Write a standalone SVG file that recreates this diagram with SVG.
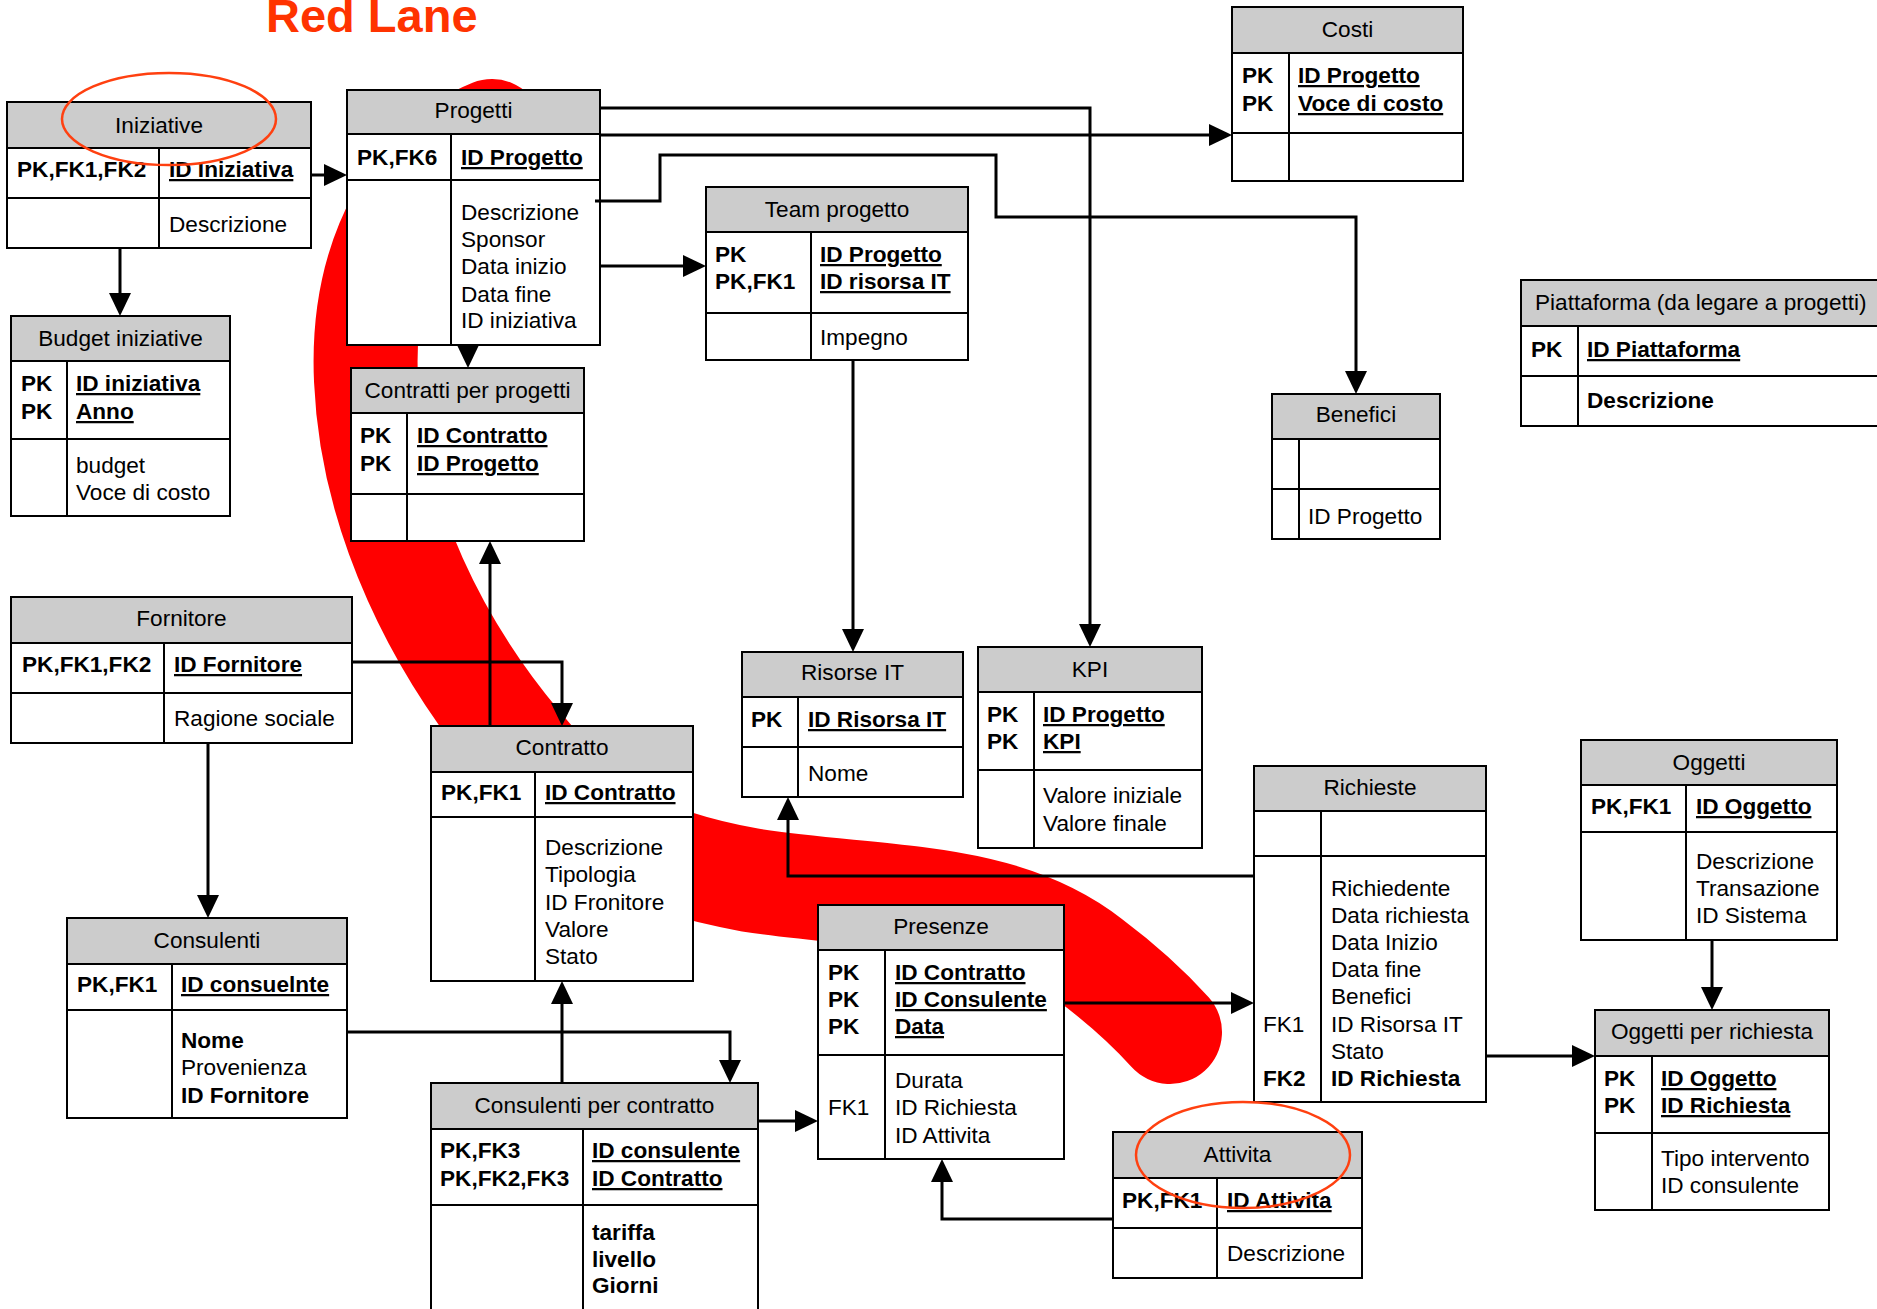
<svg xmlns="http://www.w3.org/2000/svg" width="1877" height="1309" viewBox="0 0 1877 1309">
  <style>
    text { font-family: "Liberation Sans", Arial, sans-serif; font-size: 22.6px; fill: #000; }
    .t { text-anchor: middle; }
    .b { font-weight: bold; }
    .u { font-weight: bold; text-decoration: underline; }
    .hd { fill: #cccccc; stroke: #000; stroke-width: 2; }
    .bd { fill: #ffffff; stroke: #000; stroke-width: 2; }
    .ln { fill: none; stroke: #000; stroke-width: 2; }
    .cn { fill: none; stroke: #000; stroke-width: 3; }
    .ring { fill: none; stroke: #ff4010; stroke-width: 2.5; }
  </style>
  <defs>
    <marker id="arr" markerUnits="userSpaceOnUse" markerWidth="23" markerHeight="22" viewBox="0 0 23 22" refX="15" refY="11" orient="auto">
      <path d="M0,0 L23,11 L0,22 z" fill="#000"/>
    </marker>
  </defs>

  <rect width="1877" height="1309" fill="#ffffff"/>

  <!-- thick red lane behind the tables -->
  <path d="M492,131 C420,160 360,250 366,380 C372,520 440,650 520,745 C590,830 640,860 750,880 C880,900 1000,890 1090,960 C1130,990 1152,1012 1170,1032" fill="none" stroke="#ff0000" stroke-width="104" stroke-linecap="round" stroke-linejoin="round"/>

  <text x="266" y="32" style="font-size:47px;font-weight:bold;fill:#ff3300">Red Lane</text>

  <g id="iniziative">
    <rect class="hd" x="7" y="102" width="304" height="46"/>
    <rect class="bd" x="7" y="148" width="304" height="100"/>
    <path class="ln" d="M7 198 H311 M159 148 V248"/>
    <text class="t" x="159" y="133">Iniziative</text>
    <text class="b" x="17" y="177">PK,FK1,FK2</text>
    <text class="u" x="169" y="177">ID Iniziativa</text>
    <text x="169" y="232">Descrizione</text>
  </g>

  <g id="progetti">
    <rect class="hd" x="347" y="90" width="253" height="44"/>
    <rect class="bd" x="347" y="134" width="253" height="211"/>
    <path class="ln" d="M347 180 H600 M451 134 V345"/>
    <text class="t" x="473.5" y="118">Progetti</text>
    <text class="b" x="357" y="165">PK,FK6</text>
    <text class="u" x="461" y="165">ID Progetto</text>
    <text x="461" y="220">Descrizione</text>
    <text x="461" y="247">Sponsor</text>
    <text x="461" y="274">Data inizio</text>
    <text x="461" y="302">Data fine</text>
    <text x="461" y="328">ID iniziativa</text>
  </g>

  <g id="costi">
    <rect class="hd" x="1232" y="7" width="231" height="46"/>
    <rect class="bd" x="1232" y="53" width="231" height="128"/>
    <path class="ln" d="M1232 133 H1463 M1289 53 V181"/>
    <text class="t" x="1347.5" y="37">Costi</text>
    <text class="b" x="1242" y="83">PK</text>
    <text class="b" x="1242" y="111">PK</text>
    <text class="u" x="1298" y="83">ID Progetto</text>
    <text class="u" x="1298" y="111">Voce di costo</text>
  </g>

  <g id="team-progetto">
    <rect class="hd" x="706" y="187" width="262" height="45"/>
    <rect class="bd" x="706" y="232" width="262" height="128"/>
    <path class="ln" d="M706 313 H968 M811 232 V360"/>
    <text class="t" x="837" y="217">Team progetto</text>
    <text class="b" x="715" y="262">PK</text>
    <text class="b" x="715" y="289">PK,FK1</text>
    <text class="u" x="820" y="262">ID Progetto</text>
    <text class="u" x="820" y="289">ID risorsa IT</text>
    <text x="820" y="345">Impegno</text>
  </g>

  <g id="budget-iniziative">
    <rect class="hd" x="11" y="316" width="219" height="45"/>
    <rect class="bd" x="11" y="361" width="219" height="155"/>
    <path class="ln" d="M11 439 H230 M67 361 V516"/>
    <text class="t" x="120.5" y="346">Budget iniziative</text>
    <text class="b" x="21" y="391">PK</text>
    <text class="b" x="21" y="419">PK</text>
    <text class="u" x="76" y="391">ID iniziativa</text>
    <text class="u" x="76" y="419">Anno</text>
    <text x="76" y="473">budget</text>
    <text x="76" y="500">Voce di costo</text>
  </g>

  <g id="contratti-per-progetti">
    <rect class="hd" x="351" y="368" width="233" height="45"/>
    <rect class="bd" x="351" y="413" width="233" height="128"/>
    <path class="ln" d="M351 494 H584 M407 413 V541"/>
    <text class="t" x="467.5" y="398">Contratti per progetti</text>
    <text class="b" x="360" y="443">PK</text>
    <text class="b" x="360" y="471">PK</text>
    <text class="u" x="417" y="443">ID Contratto</text>
    <text class="u" x="417" y="471">ID Progetto</text>
  </g>

  <g id="piattaforma">
    <rect class="hd" x="1521" y="280" width="380" height="46"/>
    <rect class="bd" x="1521" y="326" width="380" height="100"/>
    <path class="ln" d="M1521 376 H1901 M1578 326 V426"/>
    <text x="1535" y="310">Piattaforma (da legare a progetti)</text>
    <text class="b" x="1531" y="357">PK</text>
    <text class="u" x="1587" y="357">ID Piattaforma</text>
    <text class="b" x="1587" y="408">Descrizione</text>
  </g>

  <g id="benefici">
    <rect class="hd" x="1272" y="394" width="168" height="45"/>
    <rect class="bd" x="1272" y="439" width="168" height="100"/>
    <path class="ln" d="M1272 489 H1440 M1299 439 V539"/>
    <text class="t" x="1356" y="422">Benefici</text>
    <text x="1308" y="524">ID Progetto</text>
  </g>

  <g id="fornitore">
    <rect class="hd" x="11" y="597" width="341" height="46"/>
    <rect class="bd" x="11" y="643" width="341" height="100"/>
    <path class="ln" d="M11 693 H352 M164 643 V743"/>
    <text class="t" x="181.5" y="626">Fornitore</text>
    <text class="b" x="22" y="672">PK,FK1,FK2</text>
    <text class="u" x="174" y="672">ID Fornitore</text>
    <text x="174" y="726">Ragione sociale</text>
  </g>

  <g id="contratto">
    <rect class="hd" x="431" y="726" width="262" height="46"/>
    <rect class="bd" x="431" y="772" width="262" height="209"/>
    <path class="ln" d="M431 817 H693 M535 772 V981"/>
    <text class="t" x="562" y="755">Contratto</text>
    <text class="b" x="441" y="800">PK,FK1</text>
    <text class="u" x="545" y="800">ID Contratto</text>
    <text x="545" y="855">Descrizione</text>
    <text x="545" y="882">Tipologia</text>
    <text x="545" y="910">ID Fronitore</text>
    <text x="545" y="937">Valore</text>
    <text x="545" y="964">Stato</text>
  </g>

  <g id="consulenti">
    <rect class="hd" x="67" y="918" width="280" height="46"/>
    <rect class="bd" x="67" y="964" width="280" height="154"/>
    <path class="ln" d="M67 1010 H347 M172 964 V1118"/>
    <text class="t" x="207" y="948">Consulenti</text>
    <text class="b" x="77" y="992">PK,FK1</text>
    <text class="u" x="181" y="992">ID consuelnte</text>
    <text class="b" x="181" y="1048">Nome</text>
    <text x="181" y="1075">Provenienza</text>
    <text class="b" x="181" y="1103">ID Fornitore</text>
  </g>

  <g id="consulenti-per-contratto">
    <rect class="hd" x="431" y="1083" width="327" height="46"/>
    <rect class="bd" x="431" y="1129" width="327" height="200"/>
    <path class="ln" d="M431 1205 H758 M583 1129 V1329"/>
    <text class="t" x="594.5" y="1113">Consulenti per contratto</text>
    <text class="b" x="440" y="1158">PK,FK3</text>
    <text class="b" x="440" y="1186">PK,FK2,FK3</text>
    <text class="u" x="592" y="1158">ID consulente</text>
    <text class="u" x="592" y="1186">ID Contratto</text>
    <text class="b" x="592" y="1240">tariffa</text>
    <text class="b" x="592" y="1267">livello</text>
    <text class="b" x="592" y="1293">Giorni</text>
  </g>

  <g id="risorse-it">
    <rect class="hd" x="742" y="652" width="221" height="45"/>
    <rect class="bd" x="742" y="697" width="221" height="100"/>
    <path class="ln" d="M742 747 H963 M798 697 V797"/>
    <text class="t" x="852.5" y="680">Risorse IT</text>
    <text class="b" x="751" y="727">PK</text>
    <text class="u" x="808" y="727">ID Risorsa IT</text>
    <text x="808" y="781">Nome</text>
  </g>

  <g id="kpi">
    <rect class="hd" x="978" y="647" width="224" height="45"/>
    <rect class="bd" x="978" y="692" width="224" height="156"/>
    <path class="ln" d="M978 770 H1202 M1034 692 V848"/>
    <text class="t" x="1090" y="677">KPI</text>
    <text class="b" x="987" y="722">PK</text>
    <text class="b" x="987" y="749">PK</text>
    <text class="u" x="1043" y="722">ID Progetto</text>
    <text class="u" x="1043" y="749">KPI</text>
    <text x="1043" y="803">Valore iniziale</text>
    <text x="1043" y="831">Valore finale</text>
  </g>

  <g id="richieste">
    <rect class="hd" x="1254" y="766" width="232" height="45"/>
    <rect class="bd" x="1254" y="811" width="232" height="291"/>
    <path class="ln" d="M1254 856 H1486 M1321 811 V1102"/>
    <text class="t" x="1370" y="795">Richieste</text>
    <text x="1331" y="896">Richiedente</text>
    <text x="1331" y="923">Data richiesta</text>
    <text x="1331" y="950">Data Inizio</text>
    <text x="1331" y="977">Data fine</text>
    <text x="1331" y="1004">Benefici</text>
    <text x="1263" y="1032">FK1</text>
    <text x="1331" y="1032">ID Risorsa IT</text>
    <text x="1331" y="1059">Stato</text>
    <text class="b" x="1263" y="1086">FK2</text>
    <text class="b" x="1331" y="1086">ID Richiesta</text>
  </g>

  <g id="presenze">
    <rect class="hd" x="818" y="905" width="246" height="45"/>
    <rect class="bd" x="818" y="950" width="246" height="209"/>
    <path class="ln" d="M818 1055 H1064 M885 950 V1159"/>
    <text class="t" x="941" y="934">Presenze</text>
    <text class="b" x="828" y="980">PK</text>
    <text class="b" x="828" y="1007">PK</text>
    <text class="b" x="828" y="1034">PK</text>
    <text class="u" x="895" y="980">ID Contratto</text>
    <text class="u" x="895" y="1007">ID Consulente</text>
    <text class="u" x="895" y="1034">Data</text>
    <text x="895" y="1088">Durata</text>
    <text x="828" y="1115">FK1</text>
    <text x="895" y="1115">ID Richiesta</text>
    <text x="895" y="1143">ID Attivita</text>
  </g>

  <g id="oggetti">
    <rect class="hd" x="1581" y="740" width="256" height="45"/>
    <rect class="bd" x="1581" y="785" width="256" height="155"/>
    <path class="ln" d="M1581 832 H1837 M1686 785 V940"/>
    <text class="t" x="1709" y="770">Oggetti</text>
    <text class="b" x="1591" y="814">PK,FK1</text>
    <text class="u" x="1696" y="814">ID Oggetto</text>
    <text x="1696" y="869">Descrizione</text>
    <text x="1696" y="896">Transazione</text>
    <text x="1696" y="923">ID Sistema</text>
  </g>

  <g id="oggetti-per-richiesta">
    <rect class="hd" x="1595" y="1010" width="234" height="46"/>
    <rect class="bd" x="1595" y="1056" width="234" height="154"/>
    <path class="ln" d="M1595 1133 H1829 M1652 1056 V1210"/>
    <text class="t" x="1712" y="1039">Oggetti per richiesta</text>
    <text class="b" x="1604" y="1086">PK</text>
    <text class="b" x="1604" y="1113">PK</text>
    <text class="u" x="1661" y="1086">ID Oggetto</text>
    <text class="u" x="1661" y="1113">ID Richiesta</text>
    <text x="1661" y="1166">Tipo intervento</text>
    <text x="1661" y="1193">ID consulente</text>
  </g>

  <g id="attivita">
    <rect class="hd" x="1113" y="1132" width="249" height="46"/>
    <rect class="bd" x="1113" y="1178" width="249" height="100"/>
    <path class="ln" d="M1113 1228 H1362 M1217 1178 V1278"/>
    <text class="t" x="1237.5" y="1162">Attivita</text>
    <text class="b" x="1122" y="1208">PK,FK1</text>
    <text class="u" x="1227" y="1208">ID Attivita</text>
    <text x="1227" y="1261">Descrizione</text>
  </g>

  <!-- relationships -->
  <g id="connectors" class="cn" marker-end="url(#arr)">
    <path class="cn" d="M311 175 H339"/>
    <path class="cn" d="M120 248 V308"/>
    <path class="cn" d="M468 345 V360"/>
    <path class="cn" d="M600 108 H1090 V639"/>
    <path class="cn" d="M600 135 H1224"/>
    <path class="cn" d="M595 201 H660 V155 H996 V217 H1356 V386"/>
    <path class="cn" d="M600 266 H698"/>
    <path class="cn" d="M853 360 V644"/>
    <path class="cn" d="M352 662 H562 V718"/>
    <path class="cn" d="M490 726 V549"/>
    <path class="cn" d="M208 743 V910"/>
    <path class="cn" d="M347 1032 H730 V1075"/>
    <path class="cn" d="M562 1083 V989"/>
    <path class="cn" d="M758 1121 H810"/>
    <path class="cn" d="M1254 876 H788 V805"/>
    <path class="cn" d="M1064 1003 H1246"/>
    <path class="cn" d="M1113 1219 H942 V1167"/>
    <path class="cn" d="M1486 1056 H1587"/>
    <path class="cn" d="M1712 940 V1002"/>
  </g>

  <!-- highlight rings -->
  <ellipse class="ring" cx="169" cy="119" rx="107" ry="46"/>
  <ellipse class="ring" cx="1243" cy="1155" rx="107" ry="53"/>
</svg>
